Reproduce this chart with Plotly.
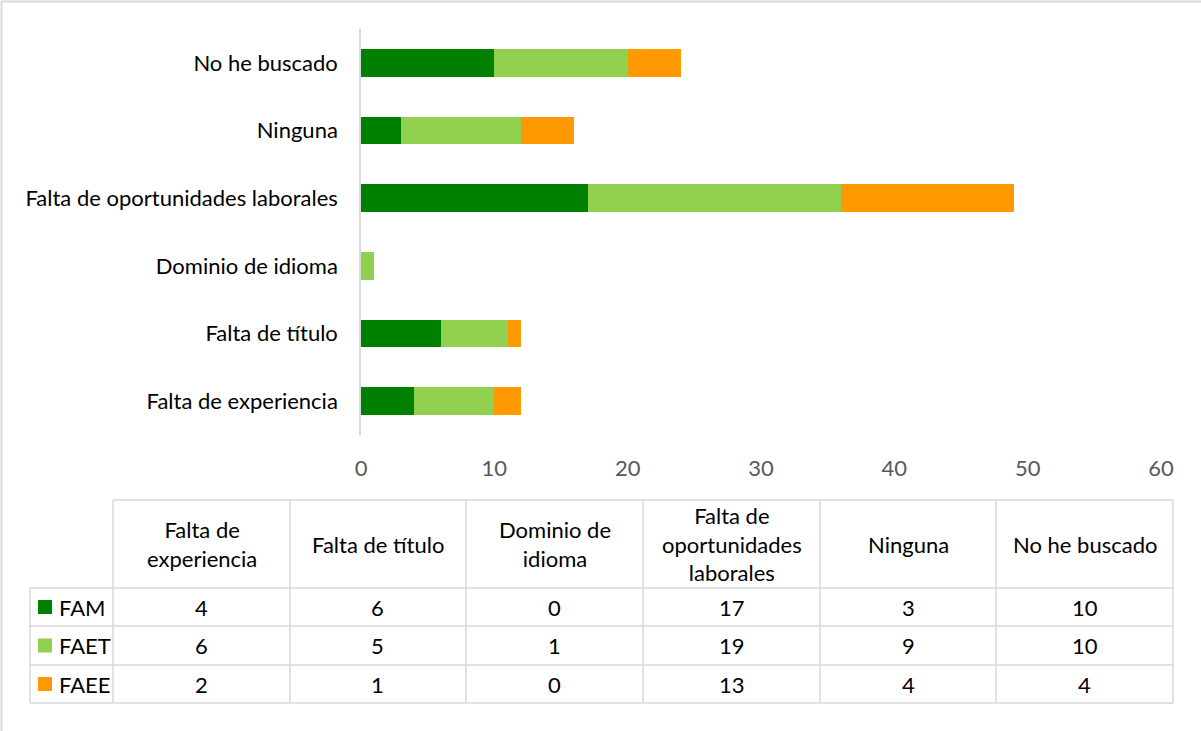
import plotly.graph_objects as go

W, H = 1201, 731

categories = ["Falta de experiencia", "Falta de título", "Dominio de idioma",
              "Falta de oportunidades laborales", "Ninguna", "No he buscado"]
header_labels = ["Falta de<br>experiencia", "Falta de título", "Dominio de<br>idioma",
                 "Falta de<br>oportunidades<br>laborales", "Ninguna", "No he buscado"]
series_names = ["FAM", "FAET", "FAEE"]
fam = [4, 6, 0, 17, 3, 10]
faet = [6, 5, 1, 19, 9, 10]
faee = [2, 1, 0, 13, 4, 4]
colors = ["#008000", "#92D050", "#FF9900"]
x_ticks = [0, 10, 20, 30, 40, 50, 60]

FONT = "Lato"
FS = 22


def px(x):
    return x / W


def py(y):
    return 1 - y / H


fig = go.Figure()
for name, vals, col in zip(series_names, [fam, faet, faee], colors):
    fig.add_trace(go.Bar(y=categories, x=vals, name=name, orientation="h",
                         marker=dict(color=col, line=dict(width=0)), width=0.41,
                         showlegend=False))

fig.update_layout(
    width=W, height=H, barmode="stack", plot_bgcolor="white", paper_bgcolor="white",
    margin=dict(l=0, r=0, t=0, b=0, autoexpand=False),
    font=dict(family=FONT, size=FS, color="#000000"),
    xaxis=dict(domain=[px(361), px(1161)], range=[0, 60], tickvals=x_ticks, automargin=False,
               showgrid=False, zeroline=False, showline=False, ticks="",
               tickfont=dict(color="#595959", size=FS), ticklabelstandoff=18),
    yaxis=dict(domain=[py(435), py(29)], categoryorder="array", categoryarray=categories,
               range=[-0.5, 5.5], showgrid=False, zeroline=False, automargin=False,
               showline=True, linecolor="#D9D9D9", linewidth=1.5, ticks="",
               tickfont=dict(color="#000000", size=FS), ticklabelstandoff=17),
)

shapes = []
# outer chart border (only top and left edges are visible in the picture)
shapes.append(dict(type="line", xref="paper", yref="paper", x0=px(1.5), x1=1,
                   y0=py(1.5), y1=py(1.5), line=dict(color="#D9D9D9", width=2)))
shapes.append(dict(type="line", xref="paper", yref="paper", x0=px(1.5), x1=px(1.5),
                   y0=0, y1=py(1.5), line=dict(color="#D9D9D9", width=2)))

# data table
col_edges = [113, 290, 466, 643, 820, 996, 1173]
row_edges = [500, 588, 626, 665, 703]
left = 30
line_style = dict(color="#D9D9D9", width=1.5)
shapes.append(dict(type="line", xref="paper", yref="paper", x0=px(col_edges[0]), x1=px(col_edges[-1]),
                   y0=py(row_edges[0]), y1=py(row_edges[0]), line=line_style))
for r in row_edges[1:]:
    shapes.append(dict(type="line", xref="paper", yref="paper", x0=px(left), x1=px(col_edges[-1]),
                       y0=py(r), y1=py(r), line=line_style))
shapes.append(dict(type="line", xref="paper", yref="paper", x0=px(left), x1=px(left),
                   y0=py(row_edges[1]), y1=py(row_edges[-1]), line=line_style))
for c in col_edges:
    shapes.append(dict(type="line", xref="paper", yref="paper", x0=px(c), x1=px(c),
                       y0=py(row_edges[0]), y1=py(row_edges[-1]), line=line_style))

annotations = []
for i, lab in enumerate(header_labels):
    cx = (col_edges[i] + col_edges[i + 1]) / 2
    cy = (row_edges[0] + row_edges[1]) / 2
    annotations.append(dict(x=px(cx), y=py(cy), xref="paper", yref="paper", text=lab,
                            showarrow=False, font=dict(size=FS, color="#000000"),
                            xanchor="center", yanchor="middle"))

for r, (name, vals, col) in enumerate(zip(series_names, [fam, faet, faee], colors)):
    y0, y1 = row_edges[r + 1], row_edges[r + 2]
    cy = (y0 + y1) / 2
    shapes.append(dict(type="rect", xref="paper", yref="paper", x0=px(38), x1=px(52),
                       y0=py(cy + 7), y1=py(cy - 7), fillcolor=col, line=dict(width=0)))
    annotations.append(dict(x=px(57), y=py(cy), xref="paper", yref="paper", text=name,
                            showarrow=False, font=dict(size=FS, color="#000000"),
                            xanchor="left", yanchor="middle"))
    for i, v in enumerate(vals):
        cx = (col_edges[i] + col_edges[i + 1]) / 2
        annotations.append(dict(x=px(cx), y=py(cy), xref="paper", yref="paper", text=str(v),
                                showarrow=False, font=dict(size=FS, color="#000000"),
                                xanchor="center", yanchor="middle"))

fig.update_layout(shapes=shapes, annotations=annotations)
# drop the default page margin and scrollbars so the figure fills the window exactly
fig.write_html(
    "out.html",
    config={"displayModeBar": False, "responsive": False},
    post_script="document.documentElement.style.overflow='hidden';"
                "document.body.style.margin='0';document.body.style.overflow='hidden';",
)
